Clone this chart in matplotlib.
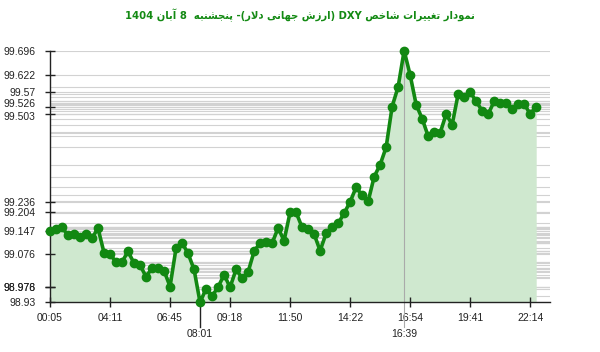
import re
from matplotlib import pyplot as plt
from matplotlib import transforms
import numpy as np

# === Data ===
title_text = "نمودار تغییرات شاخص DXY (ارزش جهانی دلار)- پنجشنبه  8 آبان 1404"

values = [
    99.147, 99.154, 99.158, 99.134, 99.138, 99.130, 99.138, 99.126, 99.155, 99.081,
    99.076, 99.053, 99.053, 99.085, 99.049, 99.043, 99.008, 99.034, 99.034, 99.026,
    98.978, 99.095, 99.111, 99.079, 99.030, 98.930, 98.971, 98.949, 98.976, 99.014,
    98.976, 99.030, 99.004, 99.022, 99.085, 99.111, 99.114, 99.110, 99.156, 99.118,
    99.204, 99.204, 99.158, 99.152, 99.138, 99.087, 99.140, 99.160, 99.170, 99.201,
    99.236, 99.280, 99.256, 99.237, 99.312, 99.349, 99.402, 99.526, 99.586, 99.696,
    99.622, 99.532, 99.489, 99.436, 99.448, 99.446, 99.503, 99.471, 99.564, 99.556,
    99.570, 99.542, 99.513, 99.503, 99.542, 99.536, 99.536, 99.519, 99.534, 99.534,
    99.503, 99.526,
]

xtick_pos = [0, 10, 20, 30, 40, 50, 60, 70, 80]
xtick_labels = ["00:05", "04:11", "06:45", "09:18", "11:50", "14:22", "16:54", "19:41", "22:14"]
min_label = "08:01"
max_label = "16:39"

ytick_vals = [99.696, 99.622, 99.57, 99.526, 99.503, 99.236, 99.204, 99.147,
              99.076, 98.978, 98.976, 98.93]
ytick_labels = ["99.696", "99.622", "99.57", "99.526", "99.503", "99.236", "99.204",
                "99.147", "99.076", "98.978", "98.976", "98.93"]

# --- tiny arabic shaper (matplotlib does no shaping / bidi) ---
FORMS = {
    'ا': ('\ufe8d', '\ufe8e', None, None),
    'آ': ('\ufe81', '\ufe82', None, None),
    'ب': ('\ufe8f', '\ufe90', '\ufe91', '\ufe92'),
    'پ': ('\ufb56', '\ufb57', '\ufb58', '\ufb59'),
    'ت': ('\ufe95', '\ufe96', '\ufe97', '\ufe98'),
    'ج': ('\ufe9d', '\ufe9e', '\ufe9f', '\ufea0'),
    'خ': ('\ufea5', '\ufea6', '\ufea7', '\ufea8'),
    'د': ('\ufea9', '\ufeaa', None, None),
    'ر': ('\ufead', '\ufeae', None, None),
    'ز': ('\ufeaf', '\ufeb0', None, None),
    'ش': ('\ufeb5', '\ufeb6', '\ufeb7', '\ufeb8'),
    'ص': ('\ufeb9', '\ufeba', '\ufebb', '\ufebc'),
    'غ': ('\ufecd', '\ufece', '\ufecf', '\ufed0'),
    'ل': ('\ufedd', '\ufede', '\ufedf', '\ufee0'),
    'م': ('\ufee1', '\ufee2', '\ufee3', '\ufee4'),
    'ن': ('\ufee5', '\ufee6', '\ufee7', '\ufee8'),
    'ه': ('\ufee9', '\ufeea', '\ufeeb', '\ufeec'),
    'و': ('\ufeed', '\ufeee', None, None),
    'ی': ('\ufbfc', '\ufbfd', '\ufbfe', '\ufbff'),
}
LAM_ALEF = {'ا': ('\ufefb', '\ufefc'), 'آ': ('\ufef5', '\ufef6')}


def dual(c):
    return c in FORMS and FORMS[c][2] is not None


def shape(text):
    out = []
    i = 0
    while i < len(text):
        c = text[i]
        prev = text[i - 1] if i > 0 else ''
        nxt = text[i + 1] if i + 1 < len(text) else ''
        if c not in FORMS:
            out.append(c)
            i += 1
            continue
        jp = dual(prev)
        if c == 'ل' and nxt in LAM_ALEF:
            out.append(LAM_ALEF[nxt][1 if jp else 0])
            i += 2
            continue
        jn = dual(c) and nxt in FORMS
        out.append(FORMS[c][3 if (jp and jn) else 1 if jp else 2 if jn else 0])
        i += 1
    vis = ''.join(out)[::-1]
    vis = re.sub(r'[A-Za-z0-9]+', lambda m: m.group(0)[::-1], vis)
    return vis.translate(str.maketrans('()', ')('))


# === Plot ===
x = np.arange(len(values))
y = np.array(values)
ymin, ymax = y.min(), y.max()
imin, imax = int(y.argmin()), int(y.argmax())

fig = plt.figure(figsize=(6, 3.52), dpi=100)
ax = fig.add_axes([50 / 600, 1 - 302.3 / 352, 500 / 600, 251.6 / 352])

for v in values:
    ax.axhline(v, color='#d2d2d2', lw=0.8, zorder=0)

ax.fill_between(x, y, ymin, color='#cfe8cf', zorder=1, lw=0)
ax.plot(x, y, color='#128812', lw=2.6, marker='o', ms=6, clip_on=False, zorder=3)

ax.set_xlim(0, 83.3)
ax.set_ylim(ymin, ymax)

for s in ['top', 'right']:
    ax.spines[s].set_visible(False)
for s in ['left', 'bottom']:
    ax.spines[s].set_color('#222222')
    ax.spines[s].set_linewidth(1)

ax.set_xticks(xtick_pos)
ax.set_xticklabels(xtick_labels)
ax.set_yticks(ytick_vals)
ax.set_yticklabels(ytick_labels)
ax.tick_params(axis='both', direction='inout', length=7, width=1, color='#222222',
               labelsize=7.5, labelcolor='#222222')
ax.tick_params(axis='x', pad=4)
ax.tick_params(axis='y', pad=7)
for lab in ax.get_xticklabels() + ax.get_yticklabels():
    lab.set_family('Liberation Sans')
# the two close labels near 99.5 are nudged apart a little
ylabs = ax.get_yticklabels()
ylabs[3].set_transform(ylabs[3].get_transform() +
                       transforms.ScaledTranslation(0, 2.5 / 72, fig.dpi_scale_trans))
ylabs[4].set_transform(ylabs[4].get_transform() +
                       transforms.ScaledTranslation(0, -1.5 / 72, fig.dpi_scale_trans))

# min / max markers below the axis
trans = transforms.blended_transform_factory(ax.transData, ax.transAxes)
ax.plot([imin, imin], [0, -0.098], color='#222222', lw=1, transform=trans, clip_on=False)
ax.plot([imax, imax], [1, -0.098], color='#aaaaaa', lw=0.8, transform=trans,
        clip_on=False, zorder=2)
for i, lab in [(imin, min_label), (imax, max_label)]:
    ax.text(i, -0.126, lab, transform=trans, ha='center', va='center',
            fontsize=7.5, color='#222222', family='Liberation Sans')

fig.text(0.5, 1 - 15 / 352, shape(title_text), ha='center', va='center',
         fontsize=8, fontweight='bold', color='#138a13', family=['DejaVu Sans'],
         fontstretch='condensed')

fig.savefig('out.png', dpi=100)
